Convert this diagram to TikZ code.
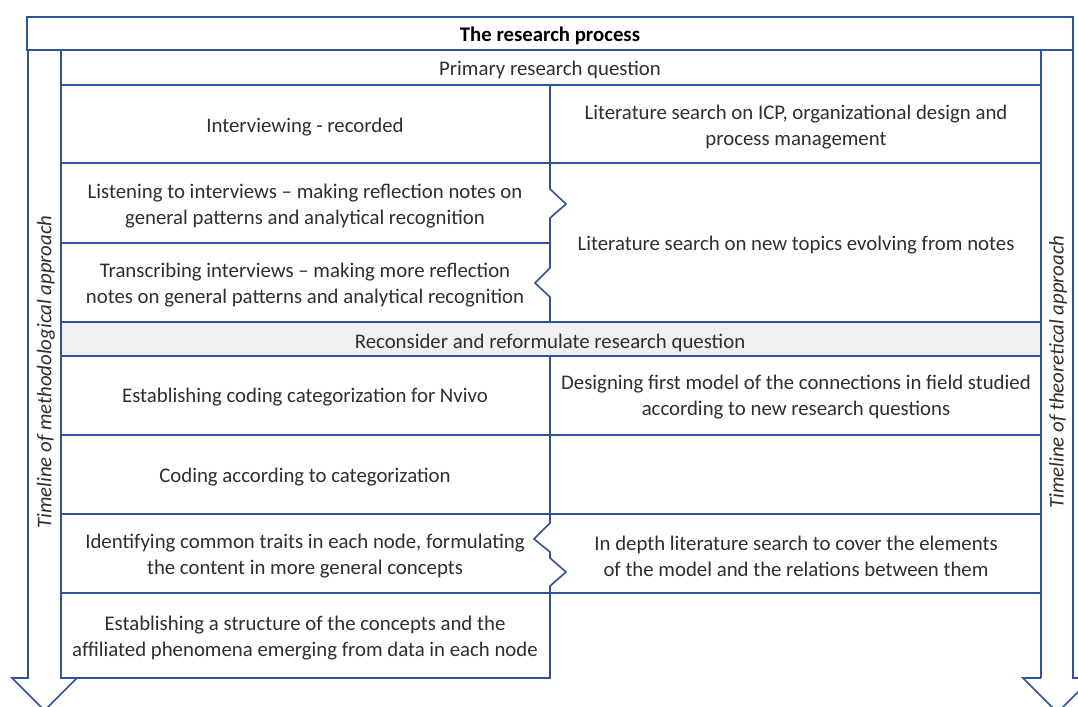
\documentclass[tikz,border=0pt]{standalone}
\usepackage{fontspec}
\setmainfont{Carlito}
\definecolor{frame}{HTML}{2F5496}
\definecolor{ink}{HTML}{2E2E2E}
\definecolor{band}{HTML}{F0F0F0}
\tikzset{
  cell/.style = {text=ink, align=center, font=\fontsize{10.4}{13}\selectfont, yshift=-1pt},
  timeline/.style = {text=ink, rotate=90, font=\fontsize{10.4}{13}\selectfont\itshape}
}

\begin{document}
\begin{tikzpicture}[x=0.5pt,y=-0.5pt,line width=0.8pt,frame]
  \useasboundingbox (0,0) rectangle (1078,707);
  \clip (0,0) rectangle (1078,707);
  % corners of the grid
  \coordinate (tl) at (61,50);
  \coordinate (tr) at (1041,50);
  \coordinate (bl) at (61,678);
  \coordinate (br) at (1041,678);
  % the two timeline arrows
  \draw (28,50) -- (28,678) -- (12,678) -- (44.5,710.5) -- (77,678) -- (bl);
  \draw (1073,50) -- (1073,678) -- (1092,678) -- (1057.5,712.5) -- (1023,678) -- (br);
  % title bar
  \draw (27,17) rectangle (1073,50);
  \node[cell,font=\fontsize{10.4}{13}\selectfont\bfseries,text=black] (title) at (550,33.5) {The research process};
  % reconsider band
  \fill[band] (61,322) rectangle (1041,356);
  % outer lines
  \draw (tl) -- (bl) -- (550,678) -- (550,593);
  \draw (tr) -- (br);
  % rows
  \foreach \y in {85,163,322,356,435,514,593}
    \draw (61,\y) -- (1041,\y);
  \draw (61,243) -- (550,243);
  % middle divider with the notches
  \draw (550,85) -- (550,189) -- (566,204) -- (550,218) -- (550,268)
    -- (535,283) -- (550,297) -- (550,322);
  \draw (550,356) -- (550,523) -- (534,539) -- (550,552) -- (550,558)
    -- (566,572) -- (550,586) -- (550,593);
  % texts
  \node[cell] (primary) at (550,68) {Primary research question};
  \node[cell] (interview) at (305,125.5) {Interviewing - recorded};
  \node[cell] (litICP) at (796,125.5) {Literature search on ICP, organizational design and\\process management};
  \node[cell] (listen) at (305,204.5) {Listening to interviews -- making reflection notes on\\general patterns and analytical recognition};
  \node[cell] (transcribe) at (305,283.5) {Transcribing interviews -- making more reflection\\notes on general patterns and analytical recognition};
  \node[cell] (litnew) at (796,243.5) {Literature search on new topics evolving from notes};
  \node[cell] (reconsider) at (550,340.5) {Reconsider and reformulate research question};
  \node[cell] (coding) at (305,395.5) {Establishing coding categorization for Nvivo};
  \node[cell] (model) at (796,395.5) {Designing first model of the connections in field studied\\according to new research questions};
  \node[cell] (codecat) at (305,475.5) {Coding according to categorization};
  \node[cell] (traits) at (305,554.5) {Identifying common traits in each node, formulating\\the content in more general concepts};
  \node[cell] (indepth) at (796,554.5) {In depth literature search to cover the elements\\of the model and the relations between them};
  \node[cell] (structure) at (305,636.5) {Establishing a structure of the concepts and the\\affiliated phenomena emerging from data in each node};
  \node[timeline] (method) at (46,372) {Timeline of methodological approach};
  \node[timeline] (theory) at (1058,372) {Timeline of theoretical approach};
\end{tikzpicture}
\end{document}
